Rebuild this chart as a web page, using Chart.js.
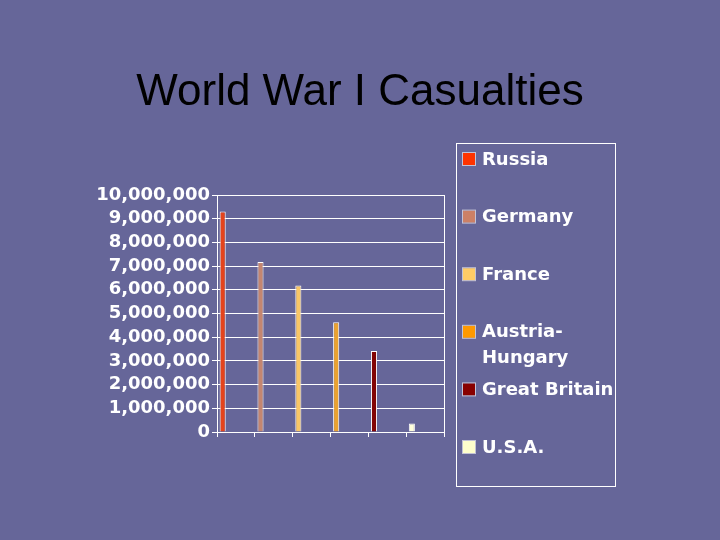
<!DOCTYPE html>
<html>
<head>
<meta charset="utf-8">
<script src="https://cdn.jsdelivr.net/npm/chart.js@4/dist/chart.umd.min.js"></script>
<style>
  html, body { margin: 0; padding: 0; background: #666699; }
  canvas { display: block; }
</style>
</head>
<body>
<canvas id="c" width="720" height="540"></canvas>
<script>
// ---- data ----
const chartTitle = 'World War I Casualties';
const categories = ['Russia', 'Germany', 'France', 'Austria-Hungary', 'Great Britain', 'U.S.A.'];
const casualties = [9300000, 7170000, 6180000, 4630000, 3420000, 360000];
const yTickValues = [0, 1000000, 2000000, 3000000, 4000000, 5000000, 6000000, 7000000, 8000000, 9000000, 10000000];
const barColors = ['#E4441C', '#C48670', '#F8C666', '#EAA232', '#820404', '#FFFFDC'];
const legendColors = ['#FF3300', '#CC8066', '#FFCC66', '#FF9900', '#880000', '#FFFFCC'];

const WHITE = '#FFFFFF';
const labelFont = { family: 'DejaVu Sans', weight: 'bold', size: 18 };

const datasets = categories.map((name, i) => ({
  label: name,
  data: categories.map((_, j) => (j === i ? casualties[i] : null)),
  backgroundColor: barColors[i],
  borderColor: WHITE,
  borderWidth: 1,
  borderSkipped: 'bottom'
}));
// empty companion slot so each bar sits to the left of its category (3D look)
datasets.push({
  label: '',
  data: categories.map(() => 0),
  backgroundColor: 'rgba(0,0,0,0)',
  borderWidth: 0
});

const bgPlugin = {
  id: 'bg',
  beforeDraw(chart) {
    const ctx = chart.ctx;
    ctx.save();
    ctx.fillStyle = '#666699';
    ctx.fillRect(0, 0, chart.width, chart.height);
    ctx.restore();
  }
};

const boxLegend = {
  id: 'boxLegend',
  afterDraw(chart) {
    const ctx = chart.ctx;
    const left = 456, top = 143, w = 159, h = 343;
    ctx.save();
    ctx.strokeStyle = WHITE;
    ctx.lineWidth = 1;
    ctx.strokeRect(left + 0.5, top + 0.5, w, h);
    ctx.font = 'bold 18px "DejaVu Sans"';
    ctx.textBaseline = 'middle';
    ctx.textAlign = 'left';
    const textX = left + 26;
    const maxW = left + w - textX - 2;
    const step = 57.6, lineH = 26;
    categories.forEach((name, i) => {
      const cy = top + 17 + i * step;
      ctx.fillStyle = legendColors[i];
      ctx.fillRect(left + 7, cy - 7, 12, 12);
      ctx.strokeStyle = 'rgba(255,255,255,0.6)';
      ctx.strokeRect(left + 6.5, cy - 7.5, 13, 13);
      let lines = [name];
      if (ctx.measureText(name).width > maxW && name.indexOf('-') > 0) {
        const k = name.indexOf('-') + 1;
        lines = [name.slice(0, k), name.slice(k)];
      }
      ctx.fillStyle = WHITE;
      lines.forEach((ln, li) => ctx.fillText(ln, textX, cy + li * lineH));
    });
    ctx.restore();
  }
};

new Chart(document.getElementById('c'), {
  type: 'bar',
  data: { labels: categories, datasets },
  plugins: [bgPlugin, boxLegend],
  options: {
    responsive: false,
    animation: false,
    devicePixelRatio: 1,
    layout: { padding: { left: 0, right: 0, top: 0, bottom: 100 } },
    datasets: {
      bar: { skipNull: true, categoryPercentage: 1.4, barPercentage: 0.23 }
    },
    plugins: {
      legend: { display: false },
      tooltip: { enabled: false },
      title: {
        display: true,
        text: chartTitle,
        color: '#000000',
        font: { family: 'Arial', size: 44, weight: 'normal', lineHeight: 1.2 },
        padding: { top: 66, bottom: 76.2 }
      }
    },
    scales: {
      x: {
        type: 'category',
        ticks: { display: false },
        grid: { display: true, drawOnChartArea: false, drawTicks: true, tickLength: 5, color: WHITE, offset: true },
        border: { display: true, color: WHITE, width: 1 },
        afterFit(s) { s.height = 8; }
      },
      y: {
        min: 0,
        max: 10000000,
        afterBuildTicks(s) { s.ticks = yTickValues.map(v => ({ value: v })); },
        ticks: {
          color: WHITE,
          font: labelFont,
          padding: 2,
          autoSkip: false,
          callback: v => Number(v).toLocaleString('en-US')
        },
        grid: { color: WHITE, lineWidth: 1, tickLength: 5, drawTicks: true },
        border: { display: true, color: WHITE, width: 1 },
        afterFit(s) { s.width = 217; }
      },
      y2: {
        position: 'right',
        min: 0,
        max: 1,
        ticks: { display: false },
        grid: { drawOnChartArea: false, drawTicks: false },
        border: { display: true, color: WHITE, width: 1 },
        afterFit(s) { s.width = 276; }
      }
    }
  }
});
</script>
</body>
</html>
